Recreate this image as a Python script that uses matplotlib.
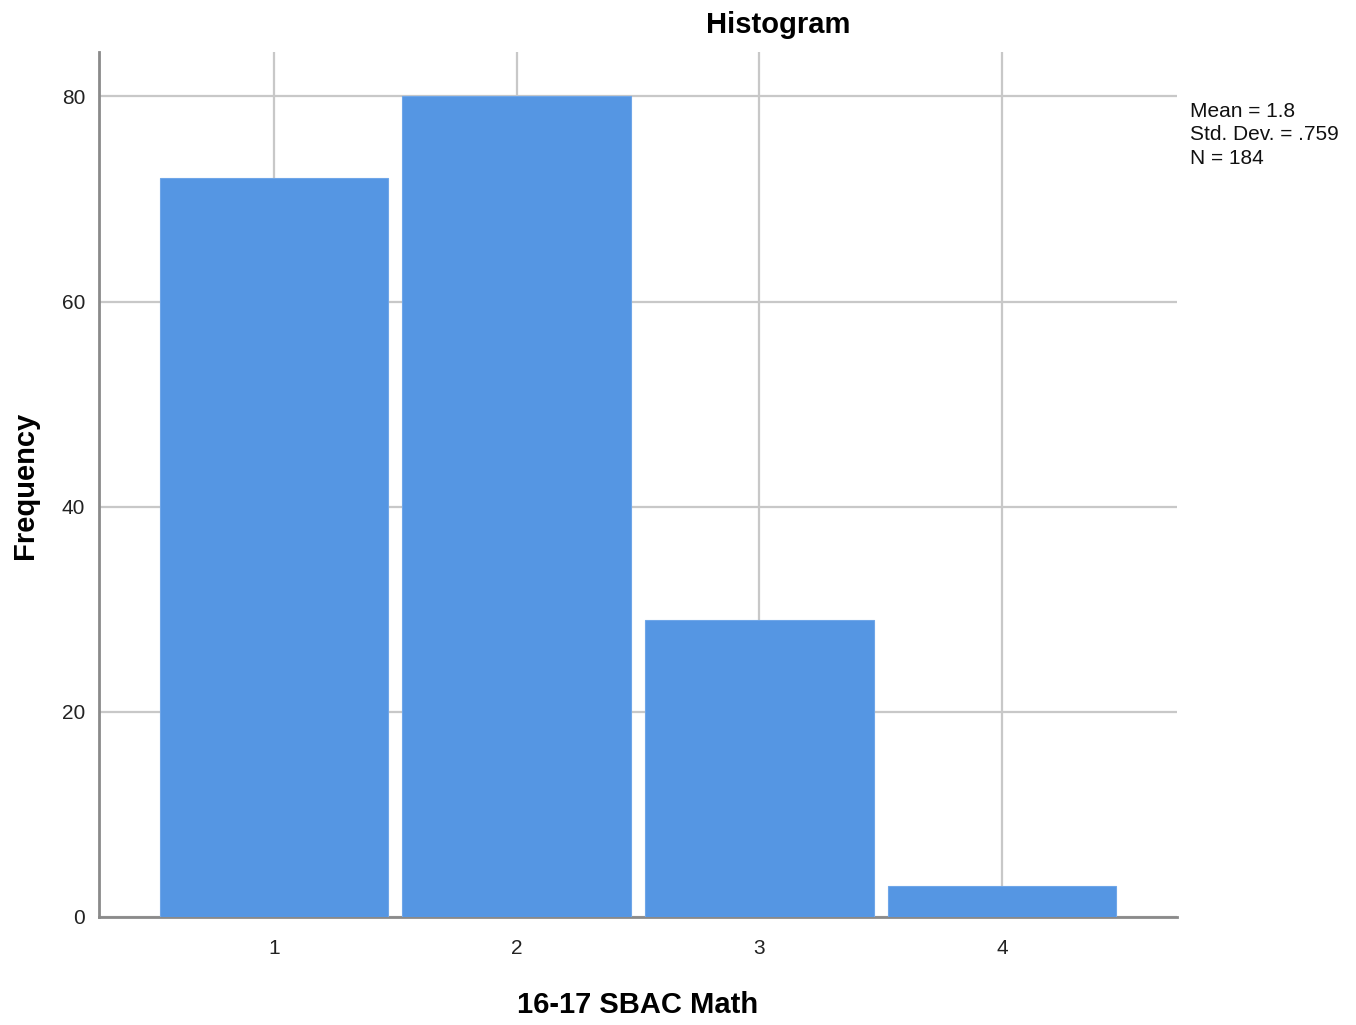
'''SPSS-style histogram of 16-17 SBAC Math levels.'''

import matplotlib
matplotlib.use('Agg')
import matplotlib.pyplot as plt

levels = [1, 2, 3, 4]
counts = [72, 80, 29, 3]
y_ticks = [0, 20, 40, 60, 80]
stats_lines = ['Mean = 1.8', 'Std. Dev. = .759', 'N = 184']

plt.rcParams['font.family'] = ['Liberation Sans', 'DejaVu Sans']

W, H = 1356, 1025
fig = plt.figure(figsize=(W / 100, H / 100), dpi=100)
ax = fig.add_axes([0.073, 0.1054, 0.795, 0.8436])

ax.bar(levels, counts, width=0.94, color='#5596e3', edgecolor='#6fa6e8',
       linewidth=0.8, zorder=3)

ax.set_xlim(0.28, 4.72)
ax.set_ylim(0, 84.3)
ax.set_xticks(levels)
ax.set_yticks(y_ticks)
ax.tick_params(length=0, labelsize=15, colors='#222222')
ax.tick_params(axis='x', pad=16)
ax.tick_params(axis='y', pad=10)

ax.grid(True, color='#c8c8c8', linewidth=1.6, zorder=0)
ax.set_axisbelow(True)

for side in ['top', 'right']:
    ax.spines[side].set_visible(False)
for side in ['left', 'bottom']:
    ax.spines[side].set_color('#8a8a8a')
    ax.spines[side].set_linewidth(2)

# axis labels and title placed in figure pixels, like the SPSS output
fig.text(638 / W, 1 - 1005 / H, '16-17 SBAC Math', fontsize=21,
         fontweight='bold', ha='center', va='center')
fig.text(25 / W, 1 - 485 / H, 'Frequency', fontsize=21, fontweight='bold',
         ha='center', va='center', rotation=90)
fig.text(778 / W, 1 - 25 / H, 'Histogram', fontsize=21,
         fontweight='bold', ha='center', va='center')
fig.text(1190 / W, 1 - 102 / H, '\n'.join(stats_lines), fontsize=15,
         ha='left', va='top', linespacing=1.3, color='#111111')

fig.savefig('out.png', dpi=100)
